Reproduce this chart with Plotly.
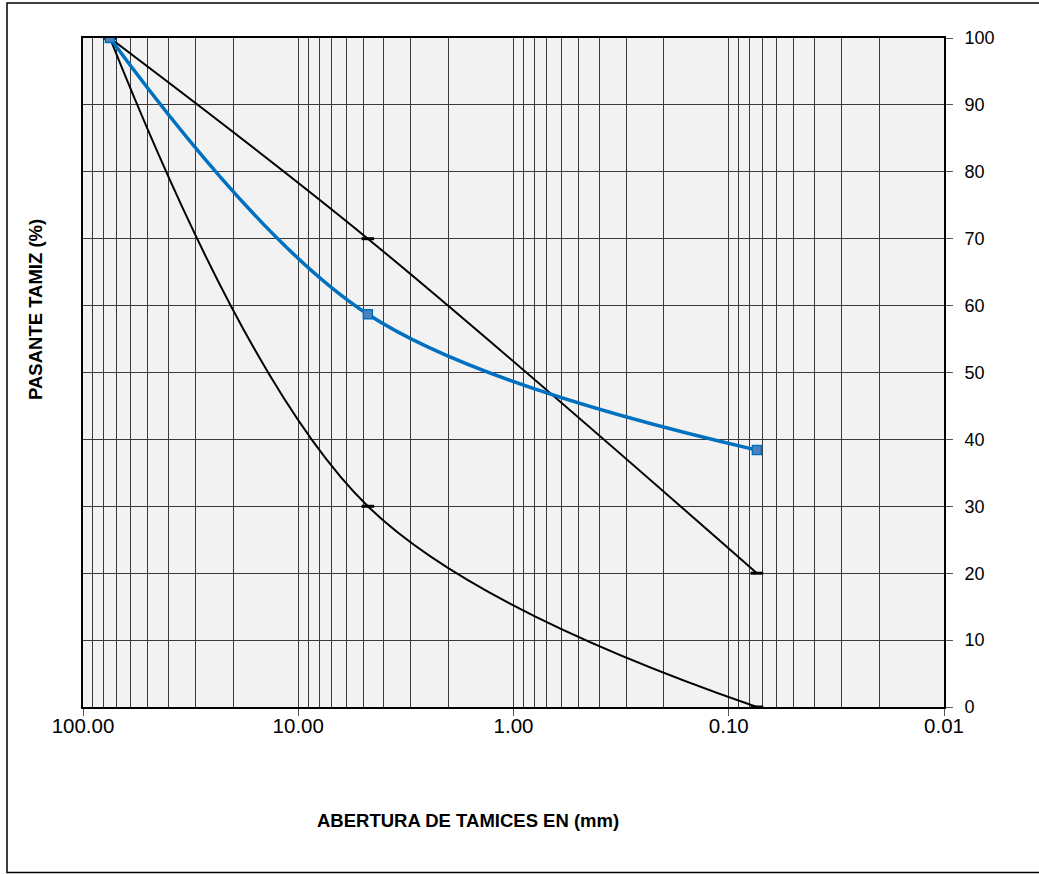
import plotly.graph_objects as go

# Data
sieve_mm = [75.0, 4.75, 0.074]
pasante_muestra = [100.0, 58.7, 38.4]
limite_superior = [100.0, 70.0, 20.0]
limite_inferior = [100.0, 30.0, 0.0]

x_tick_vals = [100, 10, 1, 0.1, 0.01]
x_tick_text = ["100.00", "10.00", "1.00", "0.10", "0.01"]
y_tick_vals = [0, 10, 20, 30, 40, 50, 60, 70, 80, 90, 100]

W, H = 1039, 874
L, R, T, B = 83, 95, 38, 167
pw, ph = W - L - R, H - T - B

fig = go.Figure()

for ys in (limite_superior, limite_inferior):
    fig.add_trace(go.Scatter(
        x=sieve_mm, y=ys, mode="lines+markers",
        line=dict(color="black", width=2, shape="spline", smoothing=1),
        marker=dict(symbol="line-ew", size=9, line=dict(color="black", width=3)),
        showlegend=False, hoverinfo="x+y"))

fig.add_trace(go.Scatter(
    x=sieve_mm, y=pasante_muestra, mode="lines+markers",
    line=dict(color="#0070C0", width=3.5, shape="spline", smoothing=1),
    marker=dict(symbol="square", size=9, color="#4F81BD",
                line=dict(color="#0070C0", width=1.5)),
    showlegend=False, hoverinfo="x+y"))

minor_vals = []
for e in range(-2, 2):
    for d in range(2, 10):
        minor_vals.append(d * 10 ** e)

font = "Liberation Sans, Arial, sans-serif"

fig.update_layout(
    width=W, height=H,
    margin=dict(l=L, r=R, t=T, b=B, pad=0),
    paper_bgcolor="white", plot_bgcolor="#F2F2F2",
    font=dict(family=font, size=15, color="black"),
    xaxis=dict(
        type="log", range=[2, -2],
        tickvals=x_tick_vals, ticktext=x_tick_text,
        ticks="outside", ticklen=7, tickcolor="#555", tickwidth=1,
        showgrid=True, gridcolor="#3a3a3a", gridwidth=1,
        minor=dict(tickvals=minor_vals, showgrid=True, gridcolor="#3a3a3a",
                   gridwidth=1, ticks=""),
        showline=True, linecolor="black", linewidth=2, mirror=True,
        zeroline=False, tickfont=dict(size=20.5, family=font),
        ticklabelstandoff=-8,
    ),
    yaxis=dict(
        range=[0, 100], side="right",
        tickvals=y_tick_vals,
        ticks="outside", ticklen=7, tickcolor="#555", tickwidth=1,
        showgrid=True, gridcolor="#3a3a3a", gridwidth=1,
        showline=True, linecolor="black", linewidth=2, mirror=True,
        zeroline=False, tickfont=dict(size=18, family=font),
        ticklabelstandoff=8,
    ),
    annotations=[
        dict(text="<b>ABERTURA DE TAMICES EN (mm)</b>", xref="paper", yref="paper",
             x=(468 - L) / pw, y=(H - B - 820) / ph, showarrow=False,
             font=dict(size=18.5, family=font), xanchor="center", yanchor="middle"),
        dict(text="<b>PASANTE TAMIZ (%)</b>", xref="paper", yref="paper",
             x=(35 - L) / pw, y=(H - B - 310) / ph, showarrow=False, textangle=-90,
             font=dict(size=18.5, family=font), xanchor="center", yanchor="middle"),
    ],
    shapes=[
        dict(type="rect", xref="paper", yref="paper",
             x0=(7 - L) / pw, x1=(1046 - L) / pw,
             y0=(H - B - 872.5) / ph, y1=(H - B - 3) / ph,
             line=dict(color="black", width=1.5), fillcolor="rgba(0,0,0,0)",
             layer="below"),
    ],
)

fig.write_html("out.html", config={"displayModeBar": False},
               post_script="document.body.style.margin='0px';")
